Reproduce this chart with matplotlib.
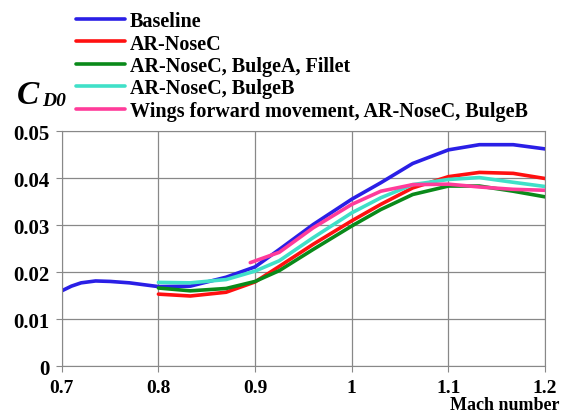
import matplotlib.pyplot as plt

# values
mach_base = [0.70, 0.71, 0.72, 0.735, 0.75, 0.77, 0.80, 0.833, 0.87, 0.90, 0.925, 0.96, 1.00, 1.03, 1.063, 1.10, 1.132, 1.167, 1.20]
cd_base = [0.0160, 0.0170, 0.0177, 0.0181, 0.0180, 0.0177, 0.0169, 0.0170, 0.0189, 0.0211, 0.0248, 0.0301, 0.0355, 0.0390, 0.0431, 0.0460, 0.0471, 0.0471, 0.0462]

mach_red = [0.80, 0.833, 0.87, 0.90, 0.925, 0.96, 1.00, 1.03, 1.063, 1.10, 1.132, 1.167, 1.20]
cd_red = [0.0153, 0.0149, 0.0157, 0.0179, 0.0212, 0.0259, 0.0309, 0.0344, 0.0379, 0.0403, 0.0412, 0.0410, 0.0399]

mach_green = [0.80, 0.833, 0.87, 0.90, 0.925, 0.96, 1.00, 1.03, 1.063, 1.10, 1.132, 1.167, 1.20]
cd_green = [0.0166, 0.0160, 0.0165, 0.0180, 0.0203, 0.0248, 0.0298, 0.0333, 0.0365, 0.0383, 0.0383, 0.0372, 0.0360]

mach_cyan = [0.80, 0.833, 0.87, 0.90, 0.925, 0.96, 1.00, 1.03, 1.063, 1.10, 1.132, 1.167, 1.20]
cd_cyan = [0.0178, 0.0177, 0.0184, 0.0202, 0.0224, 0.0273, 0.0326, 0.0358, 0.0386, 0.0397, 0.0401, 0.0391, 0.0382]

mach_pink = [0.895, 0.925, 0.96, 1.00, 1.03, 1.063, 1.10, 1.132, 1.167, 1.20]
cd_pink = [0.0220, 0.0242, 0.0294, 0.0344, 0.0372, 0.0386, 0.0387, 0.0381, 0.0376, 0.0374]

labels = ['Baseline', 'AR-NoseC', 'AR-NoseC, BulgeA, Fillet', 'AR-NoseC, BulgeB',
          'Wings forward movement, AR-NoseC, BulgeB']
colors = ['#2a1fe6', '#ff1010', '#0a8a1a', '#40e0c8', '#ff3c9a']

xticks = [0.7, 0.8, 0.9, 1.0, 1.1, 1.2]
xticklabels = ['0.7', '0.8', '0.9', '1', '1.1', '1.2']
yticks = [0, 0.01, 0.02, 0.03, 0.04, 0.05]
yticklabels = ['0', '0.01', '0.02', '0.03', '0.04', '0.05']

plt.rcParams['font.family'] = ['Liberation Serif', 'DejaVu Serif']

fig = plt.figure(figsize=(5.72, 4.14), dpi=100)
ax = fig.add_axes([0.108, 0.1135, 0.845, 0.5675])

series = [(mach_base, cd_base), (mach_red, cd_red), (mach_green, cd_green),
          (mach_cyan, cd_cyan), (mach_pink, cd_pink)]
handles = []
for (xs, ys), c, lab in zip(series, colors, labels):
    h, = ax.plot(xs, ys, color=c, lw=2.6, label=lab, solid_capstyle='round')
    handles.append(h)

ax.set_xlim(0.7, 1.2)
ax.set_ylim(0, 0.05)
ax.set_xticks(xticks)
ax.set_xticklabels(xticklabels, fontsize=14, fontweight='bold')
ax.set_yticks(yticks)
ax.set_yticklabels(yticklabels, fontsize=15, fontweight='bold')
ax.grid(True, color='#888888', lw=0.9)
for s in ax.spines.values():
    s.set_color('#888888')
ax.tick_params(direction='out', length=4, color='#888888', pad=5)

fig.legend(handles=handles, loc='upper left', bbox_to_anchor=(0.112, 1.0),
           frameon=False, prop={'family': 'Liberation Serif', 'weight': 'bold', 'size': 14.5},
           handlelength=2.45, handletextpad=0.2, labelspacing=0.12, borderaxespad=0.2)

fig.text(0.03, 0.75, 'C', fontsize=24, fontstyle='italic', fontweight='bold')
fig.text(0.074, 0.745, 'D0', fontsize=14, fontstyle='italic', fontweight='bold')
fig.text(0.978, 0.0, 'Mach number', fontsize=13, fontweight='bold', ha='right', va='bottom')

fig.savefig('out.png', dpi=100)
